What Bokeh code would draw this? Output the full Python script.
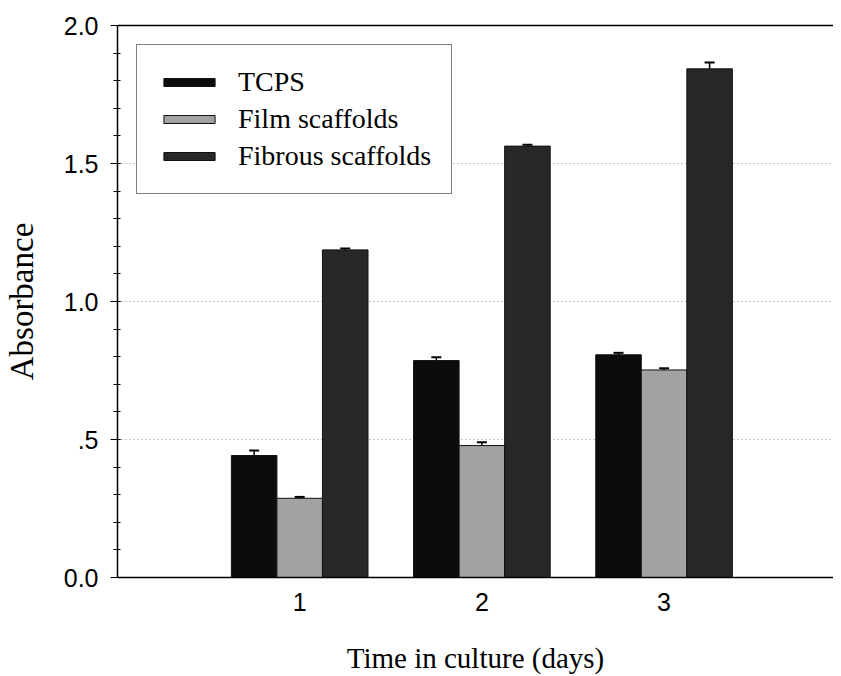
from bokeh.plotting import figure
from bokeh.models import (ColumnDataSource, Whisker, TeeHead, FixedTicker, SingleIntervalTicker,
                          LinearAxis, Range1d, Legend, LegendItem)
from bokeh.transform import dodge
from bokeh.embed import file_html
from bokeh.resources import INLINE

days = [1, 2, 3]
tcps = [0.442, 0.786, 0.807]
tcps_err = [0.018, 0.012, 0.007]
film = [0.287, 0.478, 0.752]
film_err = [0.005, 0.012, 0.006]
fibrous = [1.187, 1.563, 1.843]
fibrous_err = [0.005, 0.005, 0.023]
series_names = ["TCPS", "Film scaffolds", "Fibrous scaffolds"]
y_tick_labels = {0: "0.0", 0.5: ".5", 1: "1.0", 1.5: "1.5", 2: "2.0"}

SERIF = "Liberation Serif"
SANS = "Liberation Sans"

p = figure(width=833, height=676, output_backend="svg", toolbar_location=None,
           x_range=Range1d(0, 3.93), y_range=Range1d(0, 2.0),
           min_border_left=117, min_border_top=25, min_border_right=0, min_border_bottom=99)
p.outline_line_color = None
p.background_fill_color = "white"
p.border_fill_color = "white"

colors = ["#0c0c0c", "#a2a2a2", "#282828"]
offsets = [-0.25, 0.0, 0.25]
vals = [tcps, film, fibrous]
errs = [tcps_err, film_err, fibrous_err]
items = []
for name, col, off, v, e in zip(series_names, colors, offsets, vals, errs):
    src = ColumnDataSource(dict(day=days, val=v,
                                lo=[a - b for a, b in zip(v, e)],
                                hi=[a + b for a, b in zip(v, e)]))
    r = p.vbar(x=dodge("day", off, range=p.x_range), top="val", bottom=0, width=0.25,
               source=src, fill_color=col, line_color="#111111", line_width=1)
    w = Whisker(base=dodge("day", off, range=p.x_range), lower="lo", upper="hi", source=src,
                line_color="black", line_width=1.5,
                upper_head=TeeHead(size=10, line_color="black", line_width=2),
                lower_head=TeeHead(size=10, line_color="black", line_width=2))
    p.add_layout(w)
    items.append(LegendItem(label=name, renderers=[r]))

legend = Legend(items=items, location="top_left", margin=19, padding=20, spacing=3,
                label_height=34, glyph_height=10, glyph_width=64, label_standoff=17,
                label_text_font=SERIF, label_text_font_size="28px", label_text_color="black",
                border_line_color="black", border_line_width=1.2, background_fill_alpha=1)
p.add_layout(legend, "center")

# y axis
ya = p.yaxis[0]
ya.ticker = SingleIntervalTicker(interval=0.5, num_minor_ticks=5)
ya.major_label_overrides = y_tick_labels
ya.major_label_text_font = SANS
ya.major_label_text_font_size = "25px"
ya.major_label_text_color = "black"
ya.axis_line_color = "black"
ya.axis_line_width = 1.5
ya.major_tick_out = 7
ya.major_tick_in = 3
ya.minor_tick_out = 4
ya.minor_tick_in = 3
ya.major_tick_line_width = 1.2
ya.minor_tick_line_width = 1.2
ya.major_label_standoff = 12
ya.axis_label = "Absorbance"
ya.axis_label_text_font = SERIF
ya.axis_label_text_font_size = "33px"
ya.axis_label_text_font_style = "normal"
ya.axis_label_text_color = "black"
ya.axis_label_standoff = 21

# x axis
xa = p.xaxis[0]
xa.ticker = FixedTicker(ticks=days)
xa.major_tick_line_color = None
xa.minor_tick_line_color = None
xa.major_tick_out = 0
xa.major_tick_in = 0
xa.major_label_text_font = SANS
xa.major_label_text_font_size = "25px"
xa.major_label_text_color = "black"
xa.major_label_standoff = 15
xa.axis_line_color = "black"
xa.axis_line_width = 1.5
xa.axis_label = "Time in culture (days)"
xa.axis_label_text_font = SERIF
xa.axis_label_text_font_size = "29px"
xa.axis_label_text_font_style = "normal"
xa.axis_label_text_color = "black"
xa.axis_label_standoff = 28

# top border line
top = LinearAxis(ticker=FixedTicker(ticks=[]), major_label_text_font_size="0px",
                 axis_line_color="black", axis_line_width=1.5,
                 major_tick_line_color=None, minor_tick_line_color=None)
p.add_layout(top, "above")

p.xgrid.grid_line_color = None
p.ygrid.ticker = FixedTicker(ticks=[0.5, 1.0, 1.5])
p.ygrid.grid_line_color = "#8a8a8a"
p.ygrid.grid_line_dash = "1 3"
p.ygrid.grid_line_width = 1

open("out.html", "w").write(file_html(p, INLINE))
